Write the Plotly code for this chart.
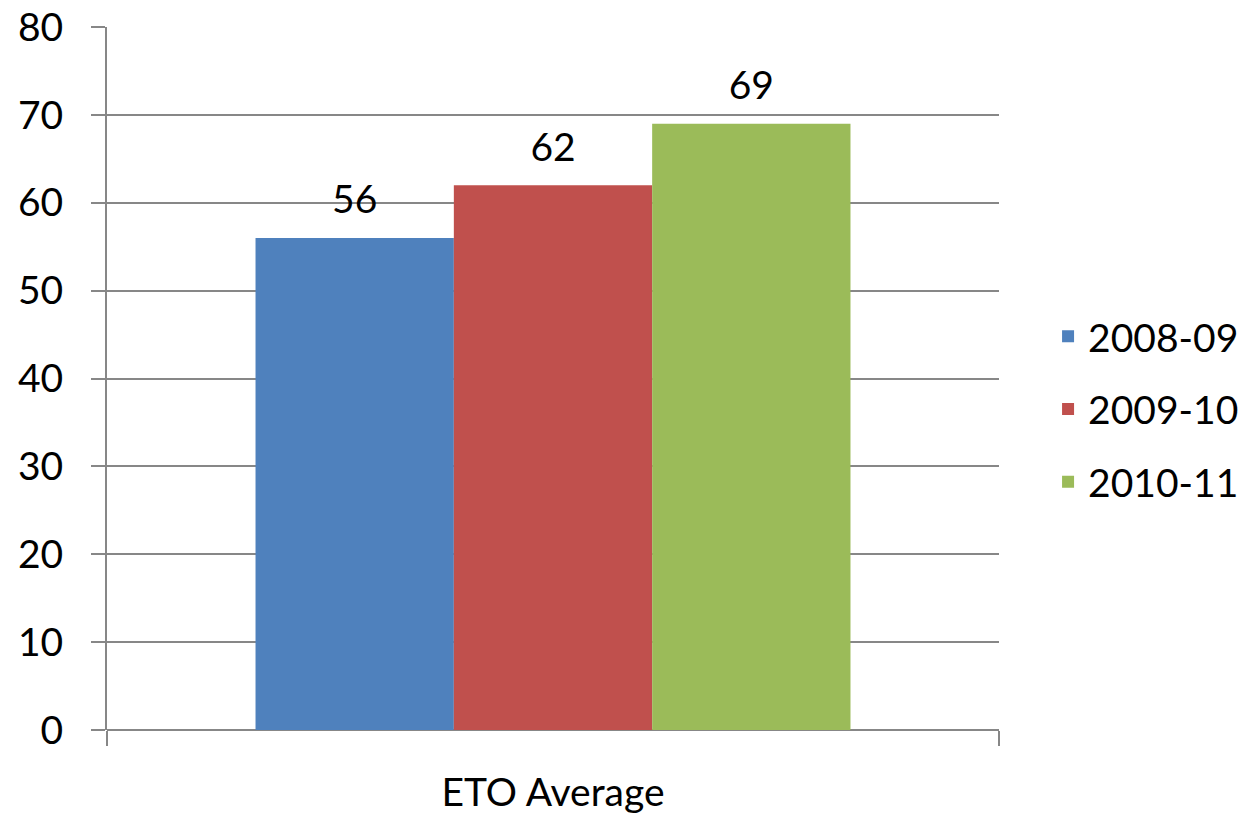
import plotly.graph_objects as go

categories = ["ETO Average"]
series_names = ["2008-09", "2009-10", "2010-11"]
series_values = [[56], [62], [69]]
colors = ["#4F81BD", "#C0504D", "#9BBB59"]
y_ticks = [0, 10, 20, 30, 40, 50, 60, 70, 80]

FONT = "Lato"
GRID = "#878787"

fig = go.Figure()
for name, vals, col in zip(series_names, series_values, colors):
    fig.add_trace(go.Bar(
        x=categories, y=vals, name=name, marker_color=col,
        marker_line_width=0, legendgroup=name, offsetgroup=name,
    ))
for name, vals in zip(series_names, series_values):
    fig.add_trace(go.Scatter(
        x=categories, y=vals, mode="markers+text", showlegend=False,
        text=[str(v) for v in vals], textposition="top center",
        textfont=dict(family=FONT, size=39, color="black"),
        marker=dict(size=22, color="rgba(0,0,0,0)"),
        cliponaxis=False, offsetgroup=name, hoverinfo="skip",
    ))

fig.update_layout(
    width=1256, height=818,
    margin=dict(l=107, r=255, t=27, b=88),
    paper_bgcolor="white", plot_bgcolor="white",
    barmode="group", bargap=0.333, bargroupgap=0,
    scattermode="group", scattergap=0.333,
    font=dict(family=FONT, size=39, color="black"),
    showlegend=True,
    legend=dict(x=1.055, y=0.456, xanchor="left", yanchor="middle",
                traceorder="grouped", tracegroupgap=19,
                font=dict(family=FONT, size=39, color="black"),
                itemwidth=30),
)
fig.update_xaxes(
    range=[-0.5, 0.5], tickson="boundaries", ticks="outside", ticklen=15,
    tickcolor=GRID, tickwidth=2, showline=False, showgrid=False,
    tickfont=dict(family=FONT, size=39, color="black"), ticklabelstandoff=36,
    automargin=False,
)
fig.update_yaxes(
    range=[0, 80], tickvals=y_ticks, ticks="outside", ticklen=14,
    tickcolor=GRID, tickwidth=2, showline=True, linecolor=GRID, linewidth=2,
    showgrid=True, gridcolor=GRID, gridwidth=2, zeroline=True, zerolinecolor=GRID,
    zerolinewidth=2, tickfont=dict(family=FONT, size=39, color="black"),
    ticklabelstandoff=20, automargin=False,
)
fig.write_html("out.html")
